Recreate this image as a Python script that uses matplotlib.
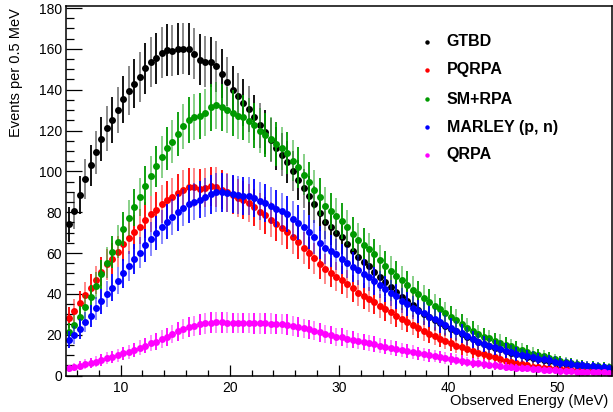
import numpy as np
import matplotlib.pyplot as plt
from matplotlib.ticker import MultipleLocator

plt.rcParams['font.family'] = ['Liberation Sans', 'DejaVu Sans']

# bins of 0.5 MeV from 5 to 55 MeV
bin_lo, bin_w, n_bins = 5.0, 0.5, 100
energy = bin_lo + bin_w * (np.arange(n_bins) + 0.5)

gtbd = [74.0, 80.8, 88.5, 96.2, 103.0, 109.4, 115.8, 121.0, 125.2, 130.0,
        135.2, 139.6, 142.9, 146.3, 150.4, 153.5, 155.3, 158.1, 159.4, 159.2,
        159.8, 160.1, 160.0, 157.7, 154.7, 153.8, 153.5, 151.4, 147.9, 143.9,
        139.9, 136.7, 133.7, 130.5, 126.4, 122.6, 119.2, 115.4, 111.2, 108.2,
        104.5, 100.2, 95.8, 91.8, 88.1, 83.8, 79.6, 75.4, 72.5, 70.0,
        67.7, 64.3, 61.0, 58.2, 55.8, 53.7, 50.9, 48.1, 45.6, 43.2,
        40.8, 38.5, 36.5, 34.6, 32.3, 30.3, 28.8, 27.2, 25.8, 24.4,
        23.0, 21.6, 20.3, 19.0, 17.7, 16.5, 15.4, 14.4, 13.6, 12.8,
        12.0, 11.2, 10.5, 9.8, 9.3, 8.7, 8.1, 7.6, 7.2, 6.7,
        6.2, 5.8, 5.4, 5.1, 4.8, 4.5, 4.3, 4.1, 3.9, 3.7]

pqrpa = [28.4, 31.7, 35.4, 39.3, 43.1, 47.0, 50.9, 54.4, 57.2, 60.7,
         64.3, 67.5, 70.2, 72.9, 76.2, 79.0, 81.1, 84.0, 86.0, 87.6,
         89.3, 90.9, 92.1, 92.2, 91.6, 92.0, 92.7, 92.3, 91.1, 89.7,
         88.3, 86.9, 85.8, 84.4, 82.5, 80.3, 78.4, 76.4, 74.3, 72.2,
         70.1, 67.6, 65.3, 62.4, 59.9, 57.5, 54.7, 52.2, 50.3, 48.4,
         46.8, 44.9, 42.7, 40.6, 39.0, 37.4, 35.9, 34.2, 32.6, 31.0,
         29.3, 27.8, 26.4, 24.8, 23.3, 21.8, 20.5, 19.2, 18.0, 16.9,
         15.8, 14.6, 14.0, 13.1, 12.2, 11.2, 10.5, 9.6, 8.9, 8.0,
         7.3, 6.6, 6.0, 5.4, 4.9, 4.4, 4.1, 3.8, 3.6, 3.4,
         3.2, 3.0, 2.9, 2.7, 2.6, 2.5, 2.4, 2.3, 2.2, 2.1]

smrpa = [21.2, 24.8, 28.8, 33.7, 38.3, 43.9, 49.6, 55.3, 60.4, 65.6,
         71.7, 77.1, 82.5, 87.5, 93.0, 97.8, 102.4, 107.0, 111.2, 114.6,
         118.4, 122.0, 125.2, 126.5, 127.2, 128.8, 131.3, 132.3, 131.3, 130.1,
         128.5, 127.2, 126.4, 124.9, 122.5, 120.0, 117.9, 115.8, 113.3, 111.2,
         108.9, 105.3, 101.9, 98.4, 94.9, 90.9, 87.6, 83.1, 80.5, 78.2,
         75.6, 72.5, 69.2, 66.4, 64.1, 61.9, 59.4, 56.6, 53.8, 51.4,
         48.9, 46.7, 44.4, 42.1, 40.0, 38.0, 36.2, 34.1, 32.5, 30.6,
         28.8, 27.2, 25.2, 23.3, 21.8, 20.3, 18.9, 18.2, 16.9, 16.1,
         15.0, 14.3, 13.1, 12.3, 11.5, 10.7, 10.0, 9.4, 8.4, 7.9,
         7.1, 6.5, 6.0, 5.6, 5.1, 4.8, 4.7, 4.5, 4.3, 4.1]

marley = [17.4, 19.9, 22.8, 26.2, 29.3, 32.9, 36.4, 40.0, 43.0, 46.5,
          50.1, 53.7, 57.1, 60.2, 63.8, 66.8, 69.6, 72.7, 75.4, 77.5,
          79.9, 82.2, 84.1, 85.2, 86.2, 87.2, 88.7, 89.7, 89.7, 89.3,
          88.8, 88.5, 88.0, 87.8, 86.8, 85.4, 84.4, 83.1, 81.8, 80.6,
          79.2, 76.8, 74.9, 72.6, 70.3, 67.7, 65.1, 62.7, 60.9, 59.4,
          57.1, 55.3, 53.3, 51.7, 49.8, 48.1, 46.3, 44.4, 42.4, 40.5,
          38.7, 36.6, 35.0, 33.3, 31.5, 30.5, 28.9, 27.5, 26.1, 24.8,
          23.4, 22.0, 20.6, 19.2, 17.8, 16.6, 15.5, 14.6, 13.8, 13.1,
          12.2, 11.4, 10.6, 10.0, 9.5, 8.9, 8.3, 7.9, 7.4, 6.8,
          6.3, 6.0, 5.6, 5.3, 5.0, 4.7, 4.5, 4.3, 4.1, 3.9]

qrpa = [3.5, 4.0, 4.7, 5.5, 6.0, 6.8, 7.6, 8.4, 9.2, 10.0,
        10.9, 11.7, 12.5, 13.6, 14.6, 15.8, 16.6, 17.9, 19.0, 20.2,
        21.6, 22.8, 23.8, 24.4, 25.0, 25.6, 25.9, 26.1, 26.1, 25.9,
        25.7, 25.7, 25.7, 25.7, 25.6, 25.6, 25.5, 25.4, 25.2, 25.1,
        24.9, 24.4, 23.9, 23.1, 22.6, 22.0, 21.2, 20.4, 19.9, 19.0,
        18.7, 17.9, 17.4, 16.9, 16.4, 15.8, 15.3, 14.6, 14.1, 13.6,
        13.1, 12.5, 12.0, 11.4, 10.9, 10.4, 10.0, 9.6, 9.1, 8.6,
        8.2, 7.7, 7.2, 6.7, 6.3, 6.0, 5.5, 5.3, 5.0, 4.7,
        4.3, 4.1, 3.9, 3.7, 3.5, 3.3, 3.0, 2.9, 2.7, 2.5,
        2.3, 2.2, 2.0, 1.8, 1.8, 1.7, 1.6, 1.5, 1.5, 1.4]

labels = ['GTBD', 'PQRPA', 'SM+RPA', 'MARLEY (p, n)', 'QRPA']
series = [gtbd, pqrpa, smrpa, marley, qrpa]
colors = ['black', '#ff0000', '#009a00', '#0000ff', '#ff00ff']

fig = plt.figure(figsize=(6.13, 4.12), dpi=100)
ax = fig.add_axes([66 / 613, 36.5 / 412, 546 / 613, 369.5 / 412])

for vals, col in zip(series, colors):
    y = np.array(vals)
    err = np.sqrt(y)
    # every other bar drawn lighter, like the original rendering
    for parity, a in ((0, 1.0), (1, 0.5)):
        sel = slice(parity, None, 2)
        ax.vlines(energy[sel], (y - err)[sel], (y + err)[sel],
                  color=col, alpha=a, lw=1.3)
    ax.plot(energy, y, 'o', color=col, ms=5, mew=0)

ax.set_xlim(5, 55)
ax.set_ylim(0, 181)

ax.xaxis.set_major_locator(MultipleLocator(10))
ax.xaxis.set_minor_locator(MultipleLocator(2))
ax.yaxis.set_major_locator(MultipleLocator(20))
ax.yaxis.set_minor_locator(MultipleLocator(5))
ax.tick_params(axis='both', which='both', direction='in', top=False, right=False,
               labelsize=10, width=0.9)
ax.tick_params(axis='y', which='major', length=11.5, pad=3)
ax.tick_params(axis='y', which='minor', length=5.8)
ax.tick_params(axis='x', which='major', length=8, pad=4)
ax.tick_params(axis='x', which='minor', length=4.3)
for sp in ax.spines.values():
    sp.set_linewidth(1.1)

# legend drawn by hand in axes coordinates
leg_y = [0.9034, 0.8268, 0.7483, 0.6717, 0.5968]
for lab, col, yy in zip(labels, colors, leg_y):
    ax.plot([0.6606], [yy], 'o', color=col, ms=3.2, mew=0, transform=ax.transAxes)
    ax.text(0.6973, yy, lab, transform=ax.transAxes, ha='left', va='center',
            fontsize=11.5, fontweight='bold')

fig.text(16 / 613, 1 - 8 / 412, 'Events per 0.5 MeV', rotation=90,
         ha='center', va='top', fontsize=10.5)
fig.text(608 / 613, 1 - 401 / 412, 'Observed Energy (MeV)',
         ha='right', va='center', fontsize=10.5)

fig.savefig('out.png', dpi=100)
